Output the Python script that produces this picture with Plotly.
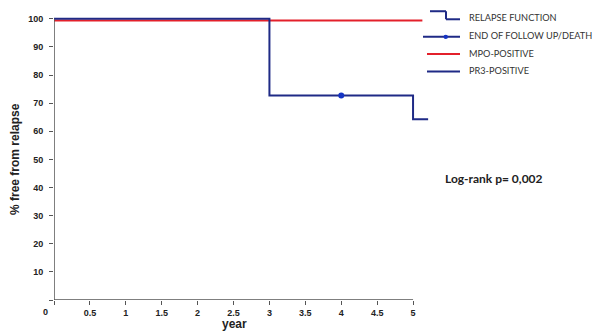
import plotly.graph_objects as go

# ---- data ----
pr3_time = [0, 3, 5, 5.21]
pr3_surv = [100, 72.7, 64.3, 64.3]
mpo_time = [0, 5.13]
mpo_surv = [99.4, 99.4]
censor_time = [4]
censor_surv = [72.7]
x_ticks = [0, 0.5, 1, 1.5, 2, 2.5, 3, 3.5, 4, 4.5, 5]
x_tick_labels = ["", "0.5", "1", "1.5", "2", "2.5", "3", "3.5", "4", "4.5", "5"]
y_ticks = [0, 10, 20, 30, 40, 50, 60, 70, 80, 90, 100]
y_tick_labels = ["", "10", "20", "30", "40", "50", "60", "70", "80", "90", "100"]
legend_labels = ["RELAPSE FUNCTION", "END OF FOLLOW UP/DEATH", "MPO-POSITIVE", "PR3-POSITIVE"]
stat_text = "Log-rank p= 0,002"

# ---- layout geometry (page has an 8px body margin) ----
OFF = 8
W, H = 600 - OFF, 334 - OFF
L, R, T, B = 54 - OFF, 169, 14 - OFF, 34
PW, PH = W - L - R, H - T - B

def px(x):
    return (x - OFF - L) / PW

def py(y):
    return (H - B - (y - OFF)) / PH

NAVY = "#1f2a86"
RED = "#e3202b"
DOT = "#1534c4"
AX = "#555555"

fig = go.Figure()
fig.add_trace(go.Scatter(x=mpo_time, y=mpo_surv, mode="lines",
                         line=dict(color=RED, width=2.2), hoverinfo="skip"))
fig.add_trace(go.Scatter(x=pr3_time, y=pr3_surv, mode="lines", line_shape="hv",
                         line=dict(color=NAVY, width=2), hoverinfo="skip"))
fig.add_trace(go.Scatter(x=censor_time, y=censor_surv, mode="markers",
                         marker=dict(color=DOT, size=6), hoverinfo="skip"))

shapes = []
# axis lines
shapes.append(dict(type="line", xref="x", yref="y", x0=0, x1=5, y0=0, y1=0,
                   line=dict(color=AX, width=1.5)))
shapes.append(dict(type="line", xref="x", yref="y", x0=0, x1=0, y0=0, y1=100,
                   line=dict(color=AX, width=1.5)))
# legend icons
def seg(x0, y0, x1, y1, color, w=2):
    shapes.append(dict(type="line", xref="paper", yref="paper",
                       x0=px(x0), x1=px(x1), y0=py(y0), y1=py(y1),
                       line=dict(color=color, width=w)))

seg(430, 9.2, 446, 9.2, NAVY)
seg(446, 9.2, 446, 17.3, NAVY)
seg(446, 17.3, 460, 17.3, NAVY)
seg(423, 35, 460, 35, NAVY)
shapes.append(dict(type="circle", xref="paper", yref="paper",
                   x0=px(443.5), x1=px(448), y0=py(32.8), y1=py(37.2),
                   fillcolor=DOT, line=dict(color=DOT, width=0)))
seg(427, 52.3, 460, 52.3, RED)
seg(427, 70, 460, 70, NAVY)

ann = []
leg_y = [15.7, 33.5, 51.8, 69.3]
for lab, yy in zip(legend_labels, leg_y):
    ann.append(dict(text=lab, xref="paper", yref="paper", x=px(467), y=py(yy),
                    xanchor="left", yanchor="middle", showarrow=False,
                    font=dict(family="Lato", size=9.2, color="#333333")))
ann.append(dict(text=stat_text, xref="paper", yref="paper", x=px(443), y=py(177.7),
                xanchor="left", yanchor="middle", showarrow=False,
                font=dict(family="Lato", size=12, color="#222222", weight="bold")))
ann.append(dict(text="year", xref="paper", yref="paper", x=px(234), y=py(324),
                xanchor="center", yanchor="middle", showarrow=False,
                font=dict(family="Liberation Sans", size=12, color="#222222", weight="bold")))
ann.append(dict(text="% free from relapse", xref="paper", yref="paper", x=px(15), y=py(158),
                xanchor="center", yanchor="middle", showarrow=False, textangle=-90,
                font=dict(family="Liberation Sans", size=12, color="#222222", weight="bold")))
ann.append(dict(text="0", xref="paper", yref="paper", x=px(45), y=py(312.5),
                xanchor="center", yanchor="middle", showarrow=False,
                font=dict(family="Liberation Sans", size=9, color="#222222", weight="bold")))

fig.update_layout(
    width=W, height=H, margin=dict(l=L, r=R, t=T, b=B),
    paper_bgcolor="white", plot_bgcolor="white", showlegend=False,
    shapes=shapes, annotations=ann,
    xaxis=dict(range=[0, 5.25], tickvals=x_ticks, ticktext=x_tick_labels,
               showgrid=False, zeroline=False, showline=False,
               ticks="outside", ticklen=4, tickwidth=1.2, tickcolor=AX,
               ticklabelstandoff=0,
               tickfont=dict(family="Liberation Sans", size=9, color="#222222", weight="bold")),
    yaxis=dict(range=[0, 101], tickvals=y_ticks, ticktext=y_tick_labels,
               showgrid=False, zeroline=False, showline=False,
               ticks="outside", ticklen=4, tickwidth=1.2, tickcolor=AX,
               ticklabelstandoff=4,
               tickfont=dict(family="Liberation Sans", size=9, color="#222222", weight="bold")),
)

fig.write_html("out.html")
